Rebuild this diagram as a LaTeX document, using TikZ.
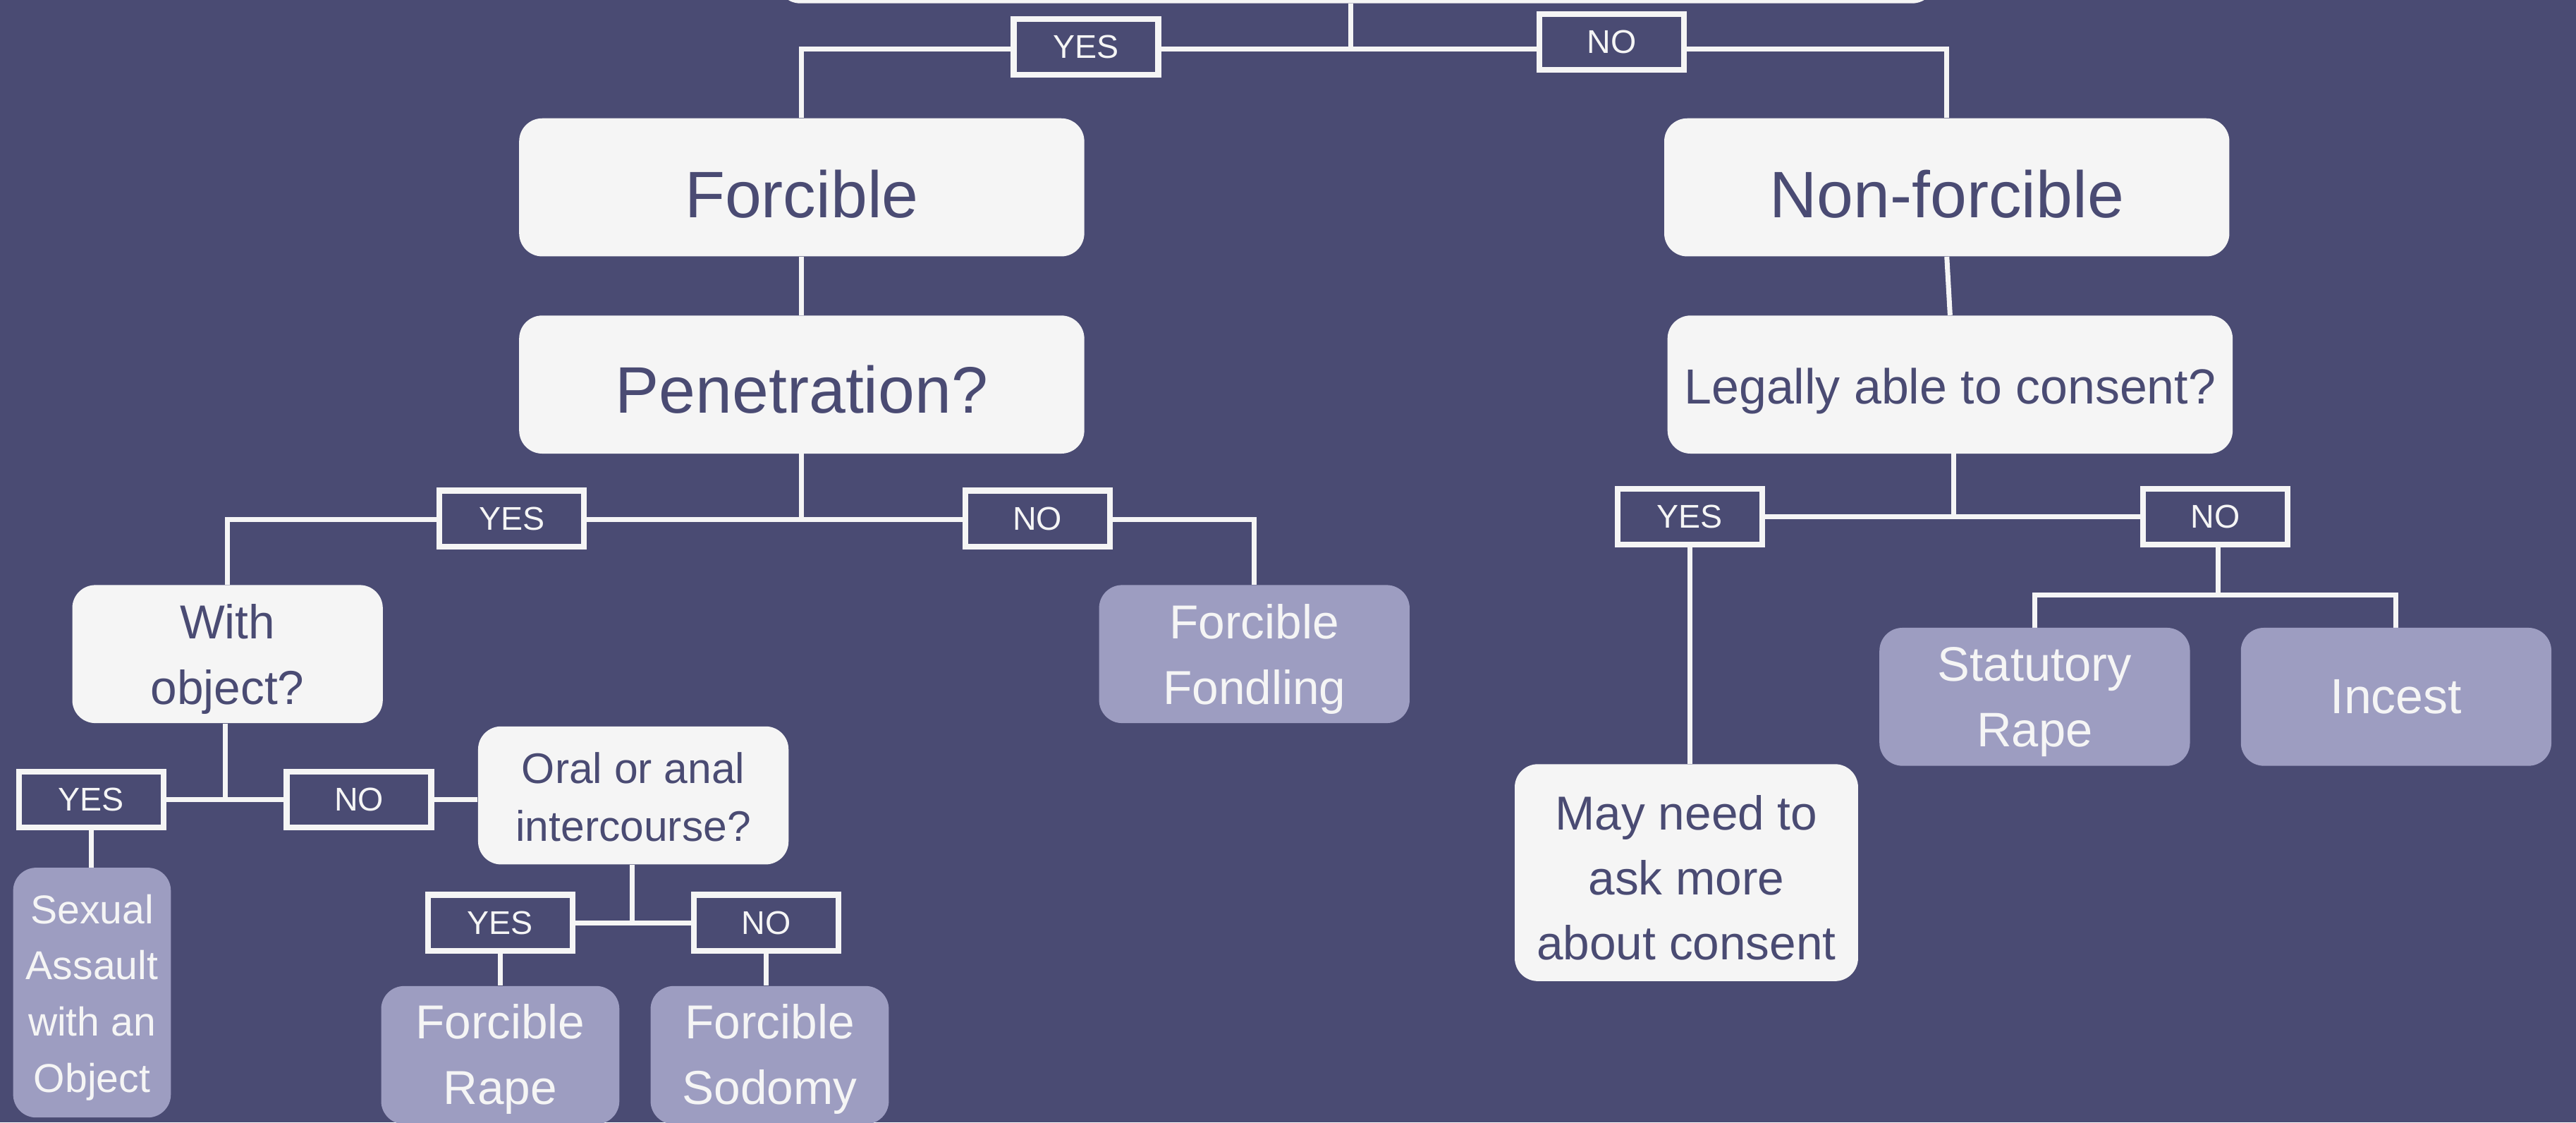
\documentclass[tikz,border=0pt]{standalone}
\usepackage{fontspec}
\setmainfont{Liberation Sans}
\usetikzlibrary{backgrounds}
\definecolor{bg}{HTML}{4A4B73}
\definecolor{boxw}{HTML}{F5F5F5}
\definecolor{lav}{HTML}{9D9DC1}
\newcommand{\dn}[2][3pt]{\raisebox{-#1}[\height][\depth]{#2}}
\tikzset{
  whitebox/.style={fill=boxw, draw=none, rounded corners=14pt, text=bg, align=center, inner sep=0pt},
  lavbox/.style={fill=lav, draw=none, rounded corners=14pt, text=boxw, align=center, inner sep=0pt},
  lab/.style={draw=boxw, line width=3.5pt, fill=bg, text=boxw, minimum width=88pt, minimum height=34pt, inner sep=0pt, font=\fontsize{20}{24}\selectfont},
  conn/.style={draw=boxw, line width=3pt},
  bigtxt/.style={font=\fontsize{40}{48}\selectfont},
  midtxt/.style={font=\fontsize{29}{40}\selectfont},
}
\begin{document}
\begin{tikzpicture}[x=1pt,y=-1pt]
\useasboundingbox (0,0) rectangle (1568,683);
% boxes
\node[whitebox, minimum width=705pt, minimum height=60pt] (top) at (825.5,-28) {};
\node[whitebox, bigtxt, minimum width=344pt, minimum height=84pt] (forcible) at (488,114) {\dn[4pt]{Forcible}};
\node[whitebox, bigtxt, minimum width=344pt, minimum height=84pt] (nonforcible) at (1185,114) {\dn[4pt]{Non-forcible}};
\node[whitebox, bigtxt, minimum width=344pt, minimum height=84pt] (penetration) at (488,234) {\dn[3pt]{Penetration?}};
\node[whitebox, font=\fontsize{30}{36}\selectfont, minimum width=344pt, minimum height=84pt] (legally) at (1187,234) {\dn[4pt]{Legally able to consent?}};
\node[whitebox, midtxt, minimum width=189pt, minimum height=84pt] (withobj) at (138.5,398) {\dn{With}\\\dn{object?}};
\node[lavbox, midtxt, minimum width=189pt, minimum height=84pt] (fondling) at (763.5,398) {\dn{Forcible}\\\dn{Fondling}};
\node[whitebox, font=\fontsize{26}{35}\selectfont, minimum width=189pt, minimum height=84pt] (oral) at (385.5,484) {\dn[1pt]{Oral or anal}\\\dn[1pt]{intercourse?}};
\node[lavbox, font=\fontsize{24.5}{34.3}\selectfont, minimum width=96pt, minimum height=152pt] (sexual) at (56,604) {\dn{Sexual}\\\dn{Assault}\\\dn{with an}\\\dn{Object}};
\node[lavbox, midtxt, minimum width=145pt, minimum height=84pt] (frape) at (304.5,642) {\dn[2.5pt]{Forcible}\\\dn[2.5pt]{Rape}};
\node[lavbox, midtxt, minimum width=145pt, minimum height=84pt] (fsodomy) at (468.5,642) {\dn[2.5pt]{Forcible}\\\dn[2.5pt]{Sodomy}};
\node[whitebox, font=\fontsize{29}{39.5}\selectfont, minimum width=209pt, minimum height=132pt] (mayneed) at (1026.5,531) {\dn{May need to}\\\dn{ask more}\\\dn{about consent}};
\node[lavbox, font=\fontsize{29.5}{40}\selectfont, minimum width=189pt, minimum height=84pt] (statutory) at (1238.5,424) {\dn{Statutory}\\\dn{Rape}};
\node[lavbox, font=\fontsize{30}{36}\selectfont, minimum width=189pt, minimum height=84pt] (incest) at (1458.5,424) {Incest};
% labels
\node[lab] (yes1) at (661,28.5) {YES};
\node[lab] (no1) at (981,25.5) {NO};
\node[lab] (yes2) at (311.5,315.5) {YES};
\node[lab] (no2) at (631.5,315.5) {NO};
\node[lab] (yes3) at (55.5,486.5) {YES};
\node[lab] (no3) at (218.5,486.5) {NO};
\node[lab] (yes4) at (304.5,561.5) {YES};
\node[lab] (no4) at (466.5,561.5) {NO};
\node[lab] (yes5) at (1028.5,314.5) {YES};
\node[lab] (no5) at (1348.5,314.5) {NO};
% junctions
\coordinate (j1) at (822,30);
\coordinate (j2) at (488,316);
\coordinate (j3) at (137,487);
\coordinate (j4) at (385,562);
\coordinate (j5) at (1189,316);
\coordinate (j6) at (1350,362);
\begin{pgfonlayer}{background}
\fill[bg] (0,0) rectangle (1568,683);
\draw[conn] (top.south -| j1) -- (j1);
\draw[conn] (forcible.north) |- (j1) -| (nonforcible.north);
\draw[conn] (forcible.south) -- (penetration.north);
\draw[conn] (nonforcible.south) -- (legally.north);
\draw[conn] (penetration.south) -- (j2);
\draw[conn] (withobj.north) |- (j2) -| (fondling.north);
\draw[conn] (withobj.south -| j3) -- (j3);
\draw[conn] (yes3.east) -- (no3.west);
\draw[conn] (no3.east) -- (no3.east -| oral.west);
\draw[conn] (yes3.south) -- (yes3.south |- sexual.north);
\draw[conn] (oral.south -| j4) -- (j4);
\draw[conn] (yes4.east) -- (no4.west);
\draw[conn] (yes4.south) -- (yes4.south |- frape.north);
\draw[conn] (no4.south) -- (no4.south |- fsodomy.north);
\draw[conn] (legally.south -| j5) -- (j5);
\draw[conn] (yes5.east) -- (no5.west);
\draw[conn] (yes5.south) -- (yes5.south |- mayneed.north);
\draw[conn] (no5.south -| j6) -- (j6);
\draw[conn] (statutory.north) |- (j6) -| (incest.north);
\end{pgfonlayer}
\end{tikzpicture}
\end{document}
